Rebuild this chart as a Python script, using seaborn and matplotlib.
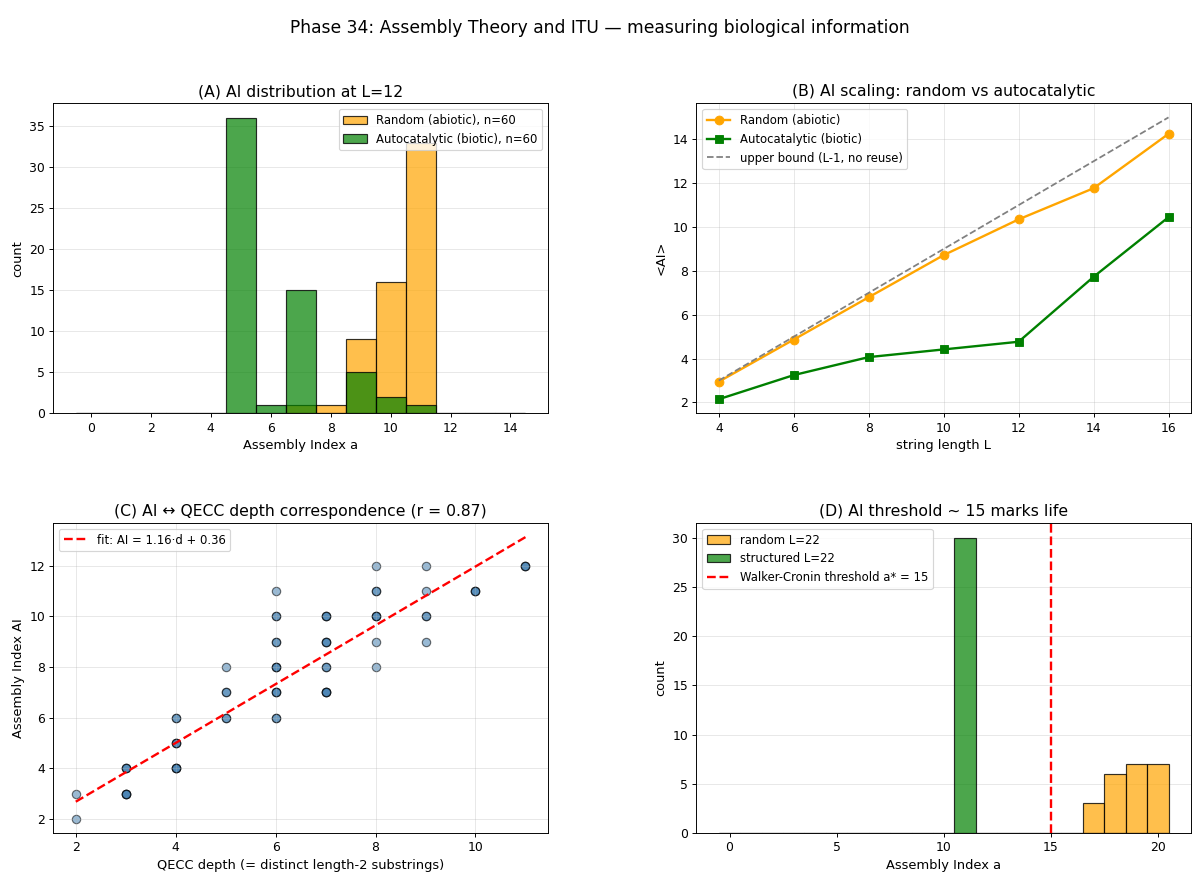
import numpy as np
import pandas as pd
import matplotlib
matplotlib.use("Agg")
import matplotlib.pyplot as plt
import seaborn as sns

# --- (A) AI distribution at L=12 ---
a_random_ai = [7, 8, 9, 10, 11]
a_random_counts = [1, 1, 9, 16, 33]
a_auto_ai = [5, 6, 7, 9, 10, 11]
a_auto_counts = [36, 1, 15, 5, 2, 1]

# --- (B) AI scaling ---
lengths = [4, 6, 8, 10, 12, 14, 16]
mean_ai_random = [2.95, 4.87, 6.80, 8.72, 10.35, 11.77, 14.25]
mean_ai_auto = [2.15, 3.25, 4.07, 4.42, 4.77, 7.73, 10.45]
upper_bound = [3, 5, 7, 9, 11, 13, 15]

# --- (C) AI vs QECC depth (point, multiplicity) ---
c_depth = [2, 2, 3, 3, 4, 4, 4, 5, 5, 5, 6, 6, 6, 6, 6, 6,
           7, 7, 7, 7, 8, 8, 8, 8, 8, 9, 9, 9, 9, 10, 11]
c_ai = [3, 2, 4, 3, 6, 5, 4, 8, 7, 6, 11, 10, 9, 8, 7, 6,
        10, 9, 8, 7, 12, 11, 10, 9, 8, 12, 11, 10, 9, 11, 12]
c_mult = [1, 1, 3, 4, 2, 3, 4, 1, 2, 2, 1, 2, 2, 3, 3, 2,
          3, 3, 2, 4, 1, 2, 3, 1, 1, 1, 1, 2, 1, 3, 3]
fit_slope, fit_intercept = 1.16, 0.36
fit_r = 0.87

# --- (D) AI threshold ---
d_random_ai = [17, 18, 19, 20]
d_random_counts = [3, 6, 7, 7]
d_struct_ai = [11]
d_struct_counts = [30]
threshold = 15

plt.rcParams.update({
    "axes.titlesize": 13.2,
    "axes.labelsize": 11,
    "xtick.labelsize": 10.5,
    "ytick.labelsize": 10.5,
    "legend.fontsize": 9.9,
})


def count_hist(ax, values, counts, bins, color, label):
    df = pd.DataFrame({"a": values, "n": counts})
    sns.histplot(data=df, x="a", weights="n", bins=list(bins), color=color,
                 alpha=0.7, edgecolor=(0, 0, 0, 0.8), linewidth=1,
                 label=label, ax=ax)


fig, axes = plt.subplots(2, 2, figsize=(1200 / 85, 883 / 85), dpi=85)
fig.subplots_adjust(left=0.0444, right=0.9925, top=0.883, bottom=0.0566,
                    wspace=0.30, hspace=0.354)
fig.suptitle("Phase 34: Assembly Theory and ITU — measuring biological information",
             fontsize=14.5, y=0.978)

# (A)
ax = axes[0, 0]
bins_a = np.arange(-0.5, 15, 1)
count_hist(ax, a_random_ai, a_random_counts, bins_a, "orange", "Random (abiotic), n=60")
count_hist(ax, a_auto_ai, a_auto_counts, bins_a, "green", "Autocatalytic (biotic), n=60")
ax.set_title("(A) AI distribution at L=12")
ax.set_xlabel("Assembly Index a")
ax.set_ylabel("count")
ax.legend(loc="upper right")
ax.grid(axis="y", alpha=0.3)
ax.set_axisbelow(True)

# (B)
ax = axes[0, 1]
sns.lineplot(x=lengths, y=mean_ai_random, color="orange", marker="o", markersize=7.5,
             markeredgecolor="orange", linewidth=2, label="Random (abiotic)", ax=ax)
sns.lineplot(x=lengths, y=mean_ai_auto, color="green", marker="s", markersize=7.5,
             markeredgecolor="green", linewidth=2, label="Autocatalytic (biotic)", ax=ax)
sns.lineplot(x=lengths, y=upper_bound, color="gray", linestyle="--", linewidth=1.5,
             label="upper bound (L-1, no reuse)", ax=ax)
ax.set_title("(B) AI scaling: random vs autocatalytic")
ax.set_xlabel("string length L")
ax.set_ylabel("<AI>")
ax.legend(loc="upper left")
ax.grid(alpha=0.3)

# (C)
ax = axes[1, 0]
xs = np.repeat(c_depth, c_mult)
ys = np.repeat(c_ai, c_mult)
sns.scatterplot(x=xs, y=ys, color="steelblue", alpha=0.55, edgecolor="black",
                linewidth=1, s=50, ax=ax)
dline = np.array([min(c_depth), max(c_depth)])
ax.plot(dline, fit_slope * dline + fit_intercept, "r--", linewidth=2,
        label=f"fit: AI = {fit_slope:.2f}·d + {fit_intercept:.2f}")
ax.set_title(f"(C) AI ↔ QECC depth correspondence (r = {fit_r:.2f})")
ax.set_xlabel("QECC depth (= distinct length-2 substrings)")
ax.set_ylabel("Assembly Index AI")
ax.legend(loc="upper left")
ax.grid(alpha=0.3)

# (D)
ax = axes[1, 1]
bins_d = np.arange(-0.5, 21, 1)
count_hist(ax, d_random_ai, d_random_counts, bins_d, "orange", "random L=22")
count_hist(ax, d_struct_ai, d_struct_counts, bins_d, "green", "structured L=22")
ax.axvline(threshold, color="red", linestyle="--", linewidth=2,
           label=f"Walker-Cronin threshold a* = {threshold}")
ax.set_title(f"(D) AI threshold ~ {threshold} marks life")
ax.set_xlabel("Assembly Index a")
ax.set_ylabel("count")
handles, labels = ax.get_legend_handles_labels()
order = [labels.index("random L=22"), labels.index("structured L=22"),
         labels.index(f"Walker-Cronin threshold a* = {threshold}")]
ax.legend([handles[i] for i in order], [labels[i] for i in order], loc="upper left")
ax.grid(axis="y", alpha=0.3)
ax.set_axisbelow(True)

fig.savefig("out.png", dpi=85)
